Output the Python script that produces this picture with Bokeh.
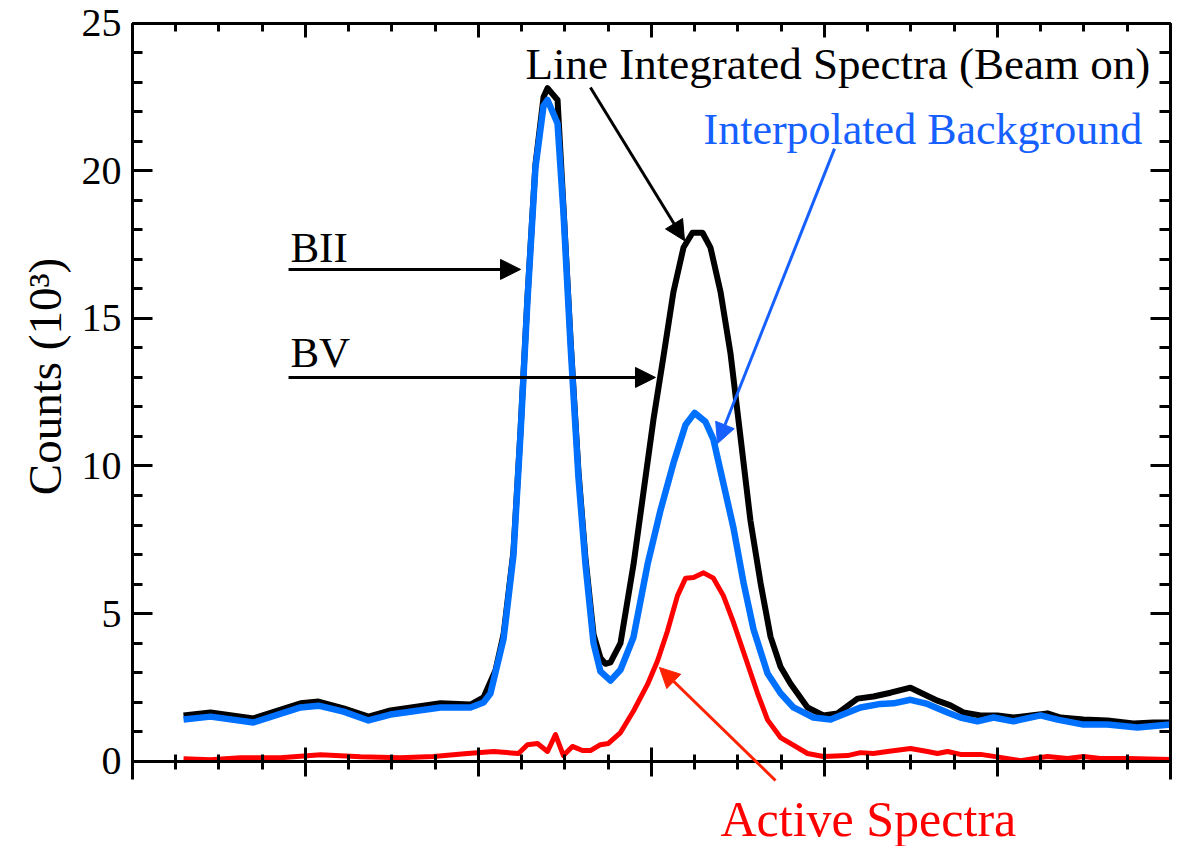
import math
from bokeh.plotting import figure
from bokeh.models import (Range1d, LinearAxis, SingleIntervalTicker, Label,
                          Arrow, NormalHead)
from bokeh.embed import file_html
from bokeh.resources import INLINE

# ---- data (x in arbitrary channel units 0..6, counts in 10^3) ----
x_total = [0.295, 0.451, 0.699, 0.971, 1.075, 1.220, 1.364, 1.491, 1.780, 1.954,
           2.029, 2.098, 2.145, 2.202, 2.243, 2.283, 2.329, 2.376, 2.399, 2.457,
           2.491, 2.532, 2.578, 2.618, 2.665, 2.705, 2.734, 2.763, 2.821, 2.896,
           2.954, 3.012, 3.069, 3.127, 3.185, 3.237, 3.295, 3.341, 3.399, 3.457,
           3.514, 3.572, 3.630, 3.688, 3.746, 3.803, 3.902, 3.994, 4.075, 4.191,
           4.283, 4.382, 4.497, 4.653, 4.728, 4.803, 4.902, 5.000, 5.092, 5.289,
           5.364, 5.497, 5.636, 5.786, 5.902, 6.000]
y_total = [1.55, 1.65, 1.45, 1.96, 2.02, 1.79, 1.51, 1.72, 1.96, 1.92,
           2.16, 3.07, 4.30, 7.10, 11.2, 15.7, 20.2, 22.5, 22.8, 22.4,
           18.8, 14.3, 9.8, 6.9, 4.3, 3.5, 3.3, 3.35, 4.0, 6.66,
           9.13, 11.6, 13.7, 15.9, 17.4, 17.9, 17.9, 17.4, 15.9, 13.8,
           11.0, 8.15, 6.05, 4.22, 3.2, 2.63, 1.82, 1.55, 1.62, 2.12,
           2.19, 2.32, 2.49, 2.05, 1.89, 1.65, 1.55, 1.55, 1.48, 1.62,
           1.48, 1.41, 1.38, 1.28, 1.31, 1.31]

x_bg = [0.295, 0.451, 0.699, 0.971, 1.075, 1.220, 1.364, 1.491, 1.780, 1.954,
        2.029, 2.069, 2.145, 2.202, 2.243, 2.283, 2.329, 2.376, 2.399, 2.457,
        2.491, 2.532, 2.578, 2.618, 2.665, 2.705, 2.763, 2.821, 2.896, 2.977,
        3.052, 3.127, 3.197, 3.249, 3.312, 3.358, 3.416, 3.474, 3.532, 3.590,
        3.671, 3.746, 3.821, 3.936, 4.035, 4.092, 4.208, 4.324, 4.399, 4.497,
        4.595, 4.711, 4.786, 4.884, 4.977, 5.092, 5.249, 5.347, 5.497, 5.636,
        5.809, 6.000]
y_bg = [1.41, 1.51, 1.31, 1.82, 1.88, 1.68, 1.38, 1.58, 1.82, 1.82,
        1.99, 2.29, 4.15, 6.97, 11.1, 15.6, 20.1, 22.2, 22.4, 21.6,
        18.6, 14.1, 9.6, 6.7, 4.0, 3.04, 2.73, 3.1, 4.2, 6.66,
        8.5, 10.1, 11.4, 11.8, 11.5, 10.9, 9.4, 7.9, 6.05, 4.46,
        2.97, 2.3, 1.82, 1.48, 1.41, 1.55, 1.82, 1.94, 1.96, 2.08,
        1.94, 1.65, 1.48, 1.35, 1.48, 1.35, 1.55, 1.41, 1.24, 1.24,
        1.14, 1.24]

x_active = [0.295, 0.451, 0.624, 0.855, 1.087, 1.318, 1.549, 1.740, 1.936, 2.087,
            2.231, 2.283, 2.341, 2.399, 2.445, 2.491, 2.543, 2.601, 2.647, 2.705,
            2.751, 2.821, 2.896, 2.977, 3.035, 3.092, 3.150, 3.197, 3.243, 3.301,
            3.358, 3.416, 3.474, 3.532, 3.613, 3.671, 3.746, 3.803, 3.902, 3.994,
            4.133, 4.208, 4.283, 4.364, 4.497, 4.595, 4.653, 4.711, 4.786, 4.902,
            5.017, 5.133, 5.289, 5.405, 5.497, 5.595, 5.751, 6.000]
y_active = [0.08, 0.05, 0.12, 0.12, 0.22, 0.15, 0.12, 0.16, 0.26, 0.33,
            0.26, 0.56, 0.60, 0.33, 0.90, 0.19, 0.50, 0.36, 0.36, 0.56,
            0.60, 0.97, 1.70, 2.60, 3.40, 4.40, 5.60, 6.20, 6.22, 6.38,
            6.20, 5.60, 4.70, 3.70, 2.30, 1.40, 0.80, 0.60, 0.26, 0.16,
            0.19, 0.29, 0.26, 0.33, 0.43, 0.33, 0.26, 0.33, 0.23, 0.23,
            0.13, 0.02, 0.16, 0.09, 0.16, 0.09, 0.09, 0.06]

x_axis_span = (0, 6)          # extent of the x axis (channel units)
y_axis_span = (-0.62, 25)     # extent of the y axis lines (10^3 counts)

y_label = "Counts (10³)"
lbl_total = "Line Integrated Spectra (Beam on)"
lbl_bg = "Interpolated Background"
lbl_active = "Active Spectra"
lbl_b2 = "BII"
lbl_b5 = "BV"

BLUE_LINE = "#0070FF"
BLUE_TEXT = "#1560FF"
RED = "#FF0000"
FONT = "Liberation Serif"

# The frame covers the whole canvas; axes are placed at fixed data locations.
p = figure(frame_width=1175, frame_height=846,
           x_range=Range1d(-0.763, 6.029), y_range=Range1d(-2.890, 25.769),
           x_axis_location=None, y_axis_location=None,
           output_backend="svg", toolbar_location=None,
           min_border=0)
p.outline_line_color = None
p.background_fill_color = "white"
p.border_fill_color = "white"
p.grid.visible = False


def style(ax, tin, tout, min_in, min_out, labels=False):
    ax.axis_line_width = 3
    ax.axis_line_color = "black"
    ax.major_tick_line_width = 3
    ax.minor_tick_line_width = 3
    ax.major_tick_in = tin
    ax.major_tick_out = tout
    ax.minor_tick_in = min_in
    ax.minor_tick_out = min_out
    if labels:
        ax.major_label_text_font = FONT
        ax.major_label_text_font_size = "40px"
        ax.major_label_text_color = "black"
        ax.major_label_standoff = 11
    else:
        ax.major_label_text_color = None
        ax.major_label_text_alpha = 0
        ax.major_label_text_font_size = "1px"
        ax.major_label_standoff = 0


left = LinearAxis(ticker=SingleIntervalTicker(interval=5, num_minor_ticks=5),
                  fixed_location=x_axis_span[0], bounds=y_axis_span)
style(left, 20, 0, 10, 0, labels=True)
p.add_layout(left, "left")

right = LinearAxis(ticker=SingleIntervalTicker(interval=5, num_minor_ticks=5),
                   fixed_location=x_axis_span[1], bounds=y_axis_span)
style(right, 20, 0, 11, 0)
p.add_layout(right, "right")

top = LinearAxis(ticker=SingleIntervalTicker(interval=1, num_minor_ticks=4),
                 fixed_location=y_axis_span[1], bounds=x_axis_span)
style(top, 14, 0, 8, 0)
p.add_layout(top, "above")

bottom = LinearAxis(ticker=SingleIntervalTicker(interval=1, num_minor_ticks=4),
                    fixed_location=0, bounds=x_axis_span)
style(bottom, 14, 15, 7, 8)
p.add_layout(bottom, "below")

p.line(x_total, y_total, line_color="black", line_width=6, line_join="round")
p.line(x_bg, y_bg, line_color=BLUE_LINE, line_width=6.5, line_join="round")
p.line(x_active, y_active, line_color=RED, line_width=5, line_join="round")

# y-axis title
p.add_layout(Label(x=-0.505, y=13.03, text=y_label, angle=math.pi / 2,
                   text_align="center", text_baseline="middle",
                   text_font=FONT, text_font_size="47px", text_color="black"))


def lab(x, y, t, color, size):
    p.add_layout(Label(x=x, y=y, text=t, text_font=FONT, text_font_size=size,
                       text_color=color, text_align="left",
                       text_baseline="middle"))

lab(2.272, 23.61, lbl_total, "black", "45px")
lab(3.301, 21.40, lbl_bg, BLUE_TEXT, "44px")
lab(0.913, 17.39, lbl_b2, "black", "43px")
lab(0.913, 13.83, lbl_b5, "black", "43px")
lab(3.399, -1.975, lbl_active, RED, "50px")


def arrow(x0, y0, x1, y1, color):
    p.add_layout(Arrow(x_start=x0, y_start=y0, x_end=x1, y_end=y1,
                       line_color=color, line_width=3,
                       end=NormalHead(size=20, fill_color=color,
                                      line_color=color, line_width=1)))

arrow(0.902, 16.66, 2.243, 16.66, "black")
arrow(0.902, 13.0, 3.023, 13.0, "black")
arrow(2.647, 22.82, 3.191, 17.63, "black")
arrow(4.058, 20.75, 3.382, 10.76, BLUE_TEXT)
arrow(3.717, -0.654, 3.046, 3.174, "#FF2200")

open("out.html", "w").write(file_html(p, INLINE))
